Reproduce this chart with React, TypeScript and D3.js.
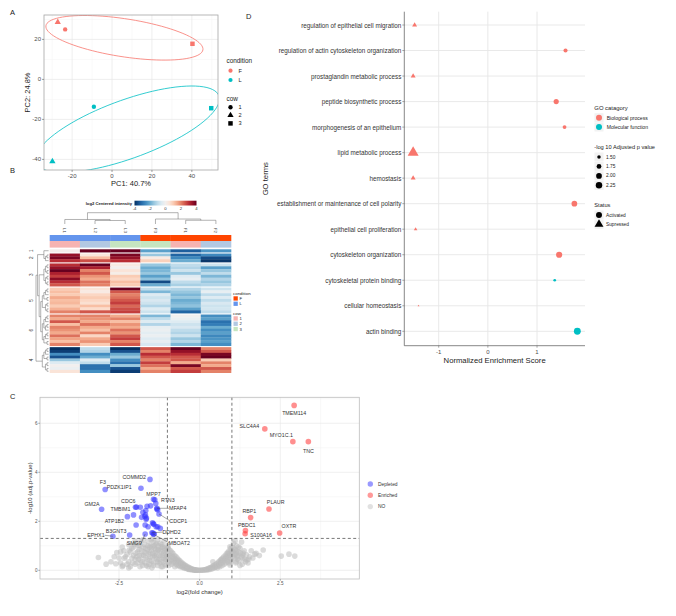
import React from 'react';
import * as d3 from 'd3';

const FONT = '"Liberation Sans", Arial, Helvetica, sans-serif';

// ---------------- Panel A : PCA ----------------
const pcaSamples = ['F1', 'F2', 'F3', 'L1', 'L2', 'L3'];
const pcaCondition = ['F', 'F', 'F', 'L', 'L', 'L'];
const pcaCow = ['1', '2', '3', '1', '2', '3'];
const pc1 = [-23.5, -27.2, 40.3, -9.1, -29.9, 49.7];
const pc2 = [25.0, 28.6, 17.8, -13.7, -41.0, -14.4];
const pcaXTicks = [-20, 0, 20, 40];
const pcaYTicks = [-40, -20, 0, 20];
const pcaXMinor = [-30, -10, 10, 30, 50];
const pcaYMinor = [-30, -10, 10, 30];
const ellipseCond = ['F', 'L'];
const ellipseCx = [6.2, 7.7];
const ellipseCy = [20.8, -24.9];
const ellipseA = [39.8, 48.8];
const ellipseB = [9.5, 14.6];
const ellipseAngle = [-8.7, 20];
const conditionLevels = ['F', 'L'];
const cowLevels = ['1', '2', '3'];

// ---------------- Panel B : heatmap ----------------
const hmColumns = ['L1', 'L2', 'L3', 'F3', 'F1', 'F2'];
const hmColCondition = ['L', 'L', 'L', 'F', 'F', 'F'];
const hmColCow = ['1', '2', '3', '3', '1', '2'];
const hmGroupNames = ['1', '2', '3', '5', '6', '4'];
const hmCluster1 = [[0.1, 4.0, 4.0, -2.2, -3.3, -2.4]];
const hmCluster2 = [
  [3.5, 0.4, 3.8, -1.5, -3.2, -2.6],
  [3.8, 1.2, 3.5, 0.3, -2.6, -3.6],
  [3.0, 2.6, 3.0, 0.9, -2.0, -3.9],
];
const hmCluster3 = [
  [3.0, 4.0, 0.3, -1.5, -1.0, -0.8],
  [3.5, 3.2, 0.0, -2.0, -1.2, -2.2],
  [4.0, 2.0, 0.5, -1.8, -0.8, -1.5],
  [3.2, 2.5, 0.2, -1.5, -1.5, -1.0],
  [2.8, 1.8, 1.0, -2.2, -0.5, -1.8],
  [3.6, 1.5, 0.8, -1.6, -0.3, -1.2],
  [3.0, 2.2, 1.2, -3.6, -1.0, -1.5],
  [2.5, 2.0, 1.0, -2.0, -1.3, -1.2],
];
const hmCluster5 = [
  [1.0, 0.5, 4.0, -1.0, -1.2, -0.8],
  [1.2, 0.3, 2.5, -1.8, -1.5, -0.3],
  [1.0, 0.8, 2.0, -0.5, -1.8, -1.0],
  [1.5, 1.0, 2.2, -0.8, -1.5, -0.5],
  [1.2, 0.8, 2.5, -0.6, -2.0, -1.0],
  [1.3, 0.6, 2.8, -0.8, -1.8, -0.6],
  [1.0, 1.2, 2.3, -1.2, -1.6, -0.8],
  [1.4, 0.7, 2.6, -0.5, -2.2, -0.7],
  [2.0, 2.5, 2.8, -0.8, -3.2, -1.0],
];
const hmCluster6 = [
  [2.0, 2.0, 1.5, -1.8, 0.0, -2.5],
  [1.5, 1.8, 2.0, -1.0, -0.2, -2.2],
  [2.5, 1.5, 1.2, -0.5, -0.5, -3.0],
  [1.2, 2.2, 1.8, -1.2, -0.8, -2.8],
  [2.0, 1.5, 1.5, -0.3, -0.6, -2.0],
  [1.8, 1.2, 2.2, -0.2, -1.0, -2.5],
  [1.5, 2.0, 1.8, -0.4, -1.2, -2.2],
  [2.2, 0.8, 2.5, -0.2, -0.8, -2.6],
  [1.6, 1.5, 2.8, -0.5, -1.5, -2.4],
  [1.2, 1.8, 2.0, -0.3, -1.2, -2.2],
  [2.0, 1.0, 2.5, -0.6, -1.8, -2.5],
];
const hmCluster4 = [
  [-4.0, -1.0, -4.0, 2.5, 4.0, 2.0],
  [-3.8, -1.2, -3.5, 2.0, 3.5, 2.5],
  [-2.5, -2.5, -2.0, 3.0, 3.0, 3.8],
  [-3.5, -2.0, -1.5, 2.5, 2.5, 4.0],
  [-1.5, -0.5, -2.5, 2.0, 2.5, 1.0],
  [-0.5, -1.0, -3.0, 2.8, 1.5, 2.0],
  [0.0, -3.0, -1.5, 2.2, 3.8, 1.5],
  [-0.2, -3.0, -3.5, 1.5, 2.5, 2.5],
  [0.5, -2.5, -3.8, 2.0, 2.8, 2.0],
];
const hmLegendTicks = [-4, -2, 0, 2, 4];

// ---------------- Panel C : volcano ----------------
const sigGenes = ['COMMD2', 'F3', 'PDZK1IP1', 'MPP7', 'RTN3', 'GM2A', 'CDC6', 'TMBIM1', 'MFAP4', 'ATP1B2', 'CDCP1', 'B3GNT3', 'EPHX1', 'DDHD2', 'SMG9', 'MBOAT2',
  'TMEM114', 'SLC4A4', 'MYO1C.1', 'TNC', 'PLAUR', 'RBP1', 'PBDC1', 'S100A16', 'OXTR'];
const sigLog2FC = [-1.54, -2.93, -1.82, -1.43, -1.36, -3.04, -1.84, -1.99, -1.32, -2.24, -1.26, -2.17, -2.69, -1.48, -1.69, -1.43,
  2.93, 2.02, 2.89, 3.37, 2.15, 1.58, 1.42, 1.41, 2.48];
const sigNegLogP = [3.71, 3.30, 3.35, 2.90, 2.73, 2.49, 2.57, 2.57, 2.53, 2.19, 2.30, 1.44, 1.39, 1.53, 1.48, 1.47,
  6.73, 5.77, 5.25, 5.25, 2.50, 2.15, 1.62, 1.49, 1.52];
const otherDepleted: [number, number][] = [
  [-1.63, 2.61], [-1.52, 2.63], [-1.33, 2.5], [-1.3, 2.47], [-2.05, 2.26], [-1.68, 2.26], [-1.65, 2.13], [-1.7, 2.2],
  [-1.66, 2.08], [-1.8, 2.16], [-1.97, 1.85], [-1.69, 1.85], [-1.46, 1.94], [-1.44, 1.9], [-1.42, 1.88], [-1.35, 1.78],
  [-1.3, 1.78], [-1.22, 1.71], [-1.6, 1.78], [-1.45, 1.52], [-1.41, 1.49], [-1.39, 2.88], [-1.76, 2.37], [-1.67, 2.44], [-1.96, 2.58],
];
const notSig: [number, number][] = [
  // left wing
  [-3.14, 0.52], [-2.9, 0.25], [-2.75, 0.35], [-2.65, 0.55], [-2.6, 0.27], [-2.57, 0.72], [-2.5, 0.5], [-2.45, 0.3], [-2.45, 0.75],
  [-2.4, 0.15], [-2.4, 0.95], [-2.38, 0.2], [-2.35, 0.8], [-2.34, 0.49], [-2.3, 0.55], [-2.25, 0.65], [-2.25, 0.25], [-2.2, 0.35],
  [-2.2, 0.1], [-2.2, 1.05], [-2.18, 0.83], [-2.15, 0.75], [-2.15, 0.15], [-2.1, 0.5], [-2.1, 0.9], [-2.08, 0.3], [-2.05, 0.95],
  [-2.05, 0.6], [-2.02, 1.05], [-2.0, 0.25], [-2.0, 0.45], [-2.0, 1.2], [-1.98, 0.7], [-1.95, 1.1], [-1.95, 0.55], [-1.93, 0.3],
  [-1.92, 0.75], [-1.9, 0.45], [-1.9, 1.0], [-1.88, 0.85], [-1.87, 0.6], [-1.85, 0.15], [-1.85, 1.0], [-1.83, 0.4], [-1.82, 1.2],
  [-1.8, 0.6], [-1.8, 0.8], [-1.78, 0.35], [-1.77, 0.2], [-1.75, 0.95], [-1.75, 1.25], [-1.74, 0.6], [-1.72, 0.75], [-1.7, 1.05],
  [-1.7, 0.3], [-1.68, 0.5], [-1.68, 0.9], [-1.66, 0.7], [-1.65, 0.2], [-1.63, 0.45], [-1.62, 0.85], [-1.6, 1.2], [-1.6, 0.15],
  [-1.6, 1.0], [-1.58, 0.65], [-1.57, 0.25], [-1.55, 0.4], [-1.55, 0.95], [-1.55, 0.75], [-1.53, 0.55], [-1.52, 1.0], [-1.5, 0.8],
  [-1.5, 1.24], [-1.5, 0.35], [-1.48, 0.1], [-1.48, 0.95], [-1.46, 0.55], [-1.45, 1.3], [-1.45, 0.7], [-1.44, 1.15], [-1.43, 0.2],
  [-1.42, 0.3], [-1.41, 1.0], [-1.4, 0.9], [-1.4, 0.6], [-1.38, 0.7], [-1.38, 0.5], [-1.36, 0.85], [-1.35, 1.05], [-1.35, 1.1],
  [-1.33, 0.45], [-1.33, 0.65], [-1.31, 0.35], [-1.3, 0.2], [-1.3, 1.25], [-1.29, 0.83], [-1.28, 1.0], [-1.28, 0.85], [-1.26, 0.45],
  [-1.25, 0.6], [-1.25, 0.3], [-1.23, 0.8], [-1.22, 1.1], [-1.21, 0.55], [-1.2, 0.35], [-1.2, 0.95], [-1.19, 0.15], [-1.18, 0.75],
  [-1.17, 1.05], [-1.15, 0.95], [-1.15, 0.15], [-1.15, 0.6], [-1.14, 0.96], [-1.13, 0.35], [-1.12, 0.5], [-1.11, 0.7], [-1.1, 1.2],
  [-1.1, 0.8], [-1.09, 0.9], [-1.08, 0.25], [-1.07, 0.45], [-1.05, 0.65], [-1.05, 0.45], [-1.05, 0.2], [-1.03, 0.85], [-1.03, 0.55],
  [-1.01, 0.75], [-1.0, 1.0], [-1.0, 0.6], [-0.99, 0.9],
  // inner band left
  [-0.98, 0.95], [-0.97, 0.5], [-0.96, 0.3], [-0.95, 0.85], [-0.95, 0.2], [-0.93, 0.6], [-0.92, 0.4], [-0.9, 0.8], [-0.9, 0.6],
  [-0.88, 0.4], [-0.87, 0.25], [-0.86, 0.72], [-0.85, 0.45], [-0.84, 0.55], [-0.83, 0.69], [-0.82, 0.35], [-0.8, 0.3], [-0.79, 0.5],
  [-0.78, 0.6], [-0.77, 0.15], [-0.76, 0.45], [-0.74, 0.56], [-0.74, 0.35], [-0.72, 0.25], [-0.71, 0.4], [-0.7, 0.5], [-0.69, 0.2],
  [-0.68, 0.38], [-0.66, 0.44], [-0.66, 0.3], [-0.64, 0.2], [-0.63, 0.32], [-0.62, 0.4], [-0.61, 0.15], [-0.6, 0.3], [-0.58, 0.34],
  [-0.57, 0.25], [-0.56, 0.15], [-0.54, 0.3], [-0.53, 0.12], [-0.52, 0.22], [-0.5, 0.26], [-0.5, 0.18], [-0.48, 0.12], [-0.47, 0.08],
  [-0.46, 0.21], [-0.44, 0.16], [-0.43, 0.1], [-0.42, 0.18], [-0.4, 0.09], [-0.39, 0.06], [-0.38, 0.14], [-0.36, 0.1], [-0.35, 0.05],
  [-0.34, 0.12], [-0.33, 0.03], [-0.32, 0.06], [-0.3, 0.09], [-0.28, 0.03], [-0.27, 0.07], [-0.25, 0.02], [-0.24, 0.05], [-0.21, 0.04],
  [-0.2, 0.01], [-0.18, 0.03], [-0.17, 0.01], [-0.15, 0.02], [-0.13, 0.0], [-0.12, 0.015], [-0.1, 0.0], [-0.09, 0.01], [-0.06, 0.005], [-0.03, 0.0],
  // inner band right
  [0.0, 0.0], [0.03, 0.0], [0.06, 0.005], [0.09, 0.01], [0.12, 0.015], [0.15, 0.02], [0.18, 0.03], [0.2, 0.01], [0.21, 0.04],
  [0.24, 0.05], [0.25, 0.02], [0.27, 0.07], [0.3, 0.09], [0.3, 0.03], [0.33, 0.1], [0.35, 0.05], [0.36, 0.12], [0.39, 0.14],
  [0.4, 0.07], [0.41, 0.35], [0.42, 0.17], [0.45, 0.2], [0.45, 0.1], [0.48, 0.12], [0.5, 0.24], [0.5, 0.14], [0.53, 0.27],
  [0.55, 0.18], [0.55, 0.1], [0.58, 0.32], [0.6, 0.36], [0.6, 0.2], [0.62, 0.25], [0.63, 0.15], [0.65, 0.42], [0.66, 0.3],
  [0.67, 0.42], [0.68, 0.46], [0.7, 0.3], [0.7, 0.2], [0.72, 0.5], [0.73, 0.38], [0.75, 0.55], [0.76, 0.25], [0.78, 0.4],
  [0.79, 0.48], [0.8, 0.62], [0.81, 0.3], [0.82, 0.5], [0.84, 0.58], [0.85, 0.7], [0.86, 0.4], [0.87, 0.69], [0.88, 0.35],
  [0.89, 0.55], [0.9, 0.78], [0.91, 0.3], [0.92, 0.6], [0.93, 0.7], [0.94, 0.96], [0.94, 0.49], [0.94, 0.22], [0.95, 0.88],
  [0.96, 0.62], [0.97, 0.45], [0.98, 0.35], [1.0, 0.95], [1.0, 0.8],
  // right wing
  [1.02, 0.7], [1.03, 0.55], [1.04, 0.76], [1.05, 1.1], [1.06, 0.9], [1.08, 0.5], [1.09, 0.65], [1.1, 0.85], [1.1, 1.2], [1.12, 0.3],
  [1.13, 0.8], [1.14, 0.69], [1.14, 0.35], [1.15, 1.0], [1.16, 0.56], [1.17, 0.45], [1.18, 0.6], [1.2, 0.75], [1.21, 0.95], [1.22, 0.4],
  [1.25, 0.9], [1.25, 0.2], [1.27, 0.7], [1.3, 0.55], [1.3, 1.15], [1.32, 0.25], [1.33, 0.5], [1.34, 0.62], [1.35, 0.7], [1.38, 0.8],
  [1.4, 0.45], [1.42, 0.35], [1.45, 0.63], [1.47, 0.42], [1.5, 0.3], [1.52, 0.45], [1.55, 0.55], [1.6, 0.8], [1.65, 0.5], [1.71, 0.66],
  [1.75, 0.69], [1.85, 0.6], [1.97, 0.83], [2.53, 0.58], [2.77, 0.66], [2.95, 0.58],
];
const volXTicks = [-2.5, 0, 2.5];
const volYTicks = [0, 2, 4, 6];
const volXMinor = [-3.75, -1.25, 1.25, 3.75];
const volYMinor = [1, 3, 5, 7];
const fcCut = 1;
const pCut = 1.301;
const volStatus = ['Depleted', 'Enriched', 'NO'];

// ---------------- Panel D : GO dot plot ----------------
const goTerms = [
  'regulation of epithelial cell migration',
  'regulation of actin cytoskeleton organization',
  'prostaglandin metabolic process',
  'peptide biosynthetic process',
  'morphogenesis of an epithelium',
  'lipid metabolic process',
  'hemostasis',
  'establishment or maintenance of cell polarity',
  'epithelial cell proliferation',
  'cytoskeleton organization',
  'cytoskeletal protein binding',
  'cellular homeostasis',
  'actin binding',
];
const goNES = [-1.49, 1.58, -1.52, 1.39, 1.56, -1.52, -1.52, 1.76, -1.47, 1.45, 1.36, -1.41, 1.82];
const goNegLogP = [1.45, 1.6, 1.45, 1.85, 1.55, 2.45, 1.45, 2.0, 1.36, 2.15, 1.4, 1.32, 2.4];
const goCategory = ['BP', 'BP', 'BP', 'BP', 'BP', 'BP', 'BP', 'BP', 'BP', 'BP', 'MF', 'BP', 'MF'];
const goStatus = ['Supressed', 'Activated', 'Supressed', 'Activated', 'Activated', 'Supressed', 'Supressed', 'Activated', 'Supressed', 'Activated', 'Activated', 'Supressed', 'Activated'];
const goXTicks = [-1, 0, 1];
const goCategoryLabels = ['Biological process', 'Molecular function'];
const goSizeBreaks = [1.5, 1.75, 2.0, 2.25];
const goStatusLevels = ['Activated', 'Supressed'];

const F_COL = '#F8766D';
const L_COL = '#00BFC4';

function sym(type: d3.SymbolType, area: number) {
  return d3.symbol().type(type).size(area)() as string;
}

// ---------------- Panel A ----------------
function PanelA() {
  const L = 44, R = 218, T = 15, B = 170;
  const x = d3.scaleLinear().domain([-34.1, 53.1]).range([L, R]);
  const y = d3.scaleLinear().domain([-45.3, 32.2]).range([B, T]);
  const col = d3.scaleOrdinal<string, string>().domain(conditionLevels).range([F_COL, L_COL]);
  const shp = d3.scaleOrdinal<string, d3.SymbolType>().domain(cowLevels).range([d3.symbolCircle, d3.symbolTriangle, d3.symbolSquare]);
  const shpArea = d3.scaleOrdinal<string, number>().domain(cowLevels).range([15, 17, 20]);
  const line = d3.line<[number, number]>().x(d => x(d[0])).y(d => y(d[1]));
  const ellipsePaths = ellipseCond.map((c, i) => {
    const th = (ellipseAngle[i] * Math.PI) / 180;
    const pts: [number, number][] = d3.range(0, 361, 4).map(deg => {
      const t = (deg * Math.PI) / 180;
      const ex = ellipseA[i] * Math.cos(t), ey = ellipseB[i] * Math.sin(t);
      return [ellipseCx[i] + ex * Math.cos(th) - ey * Math.sin(th), ellipseCy[i] + ex * Math.sin(th) + ey * Math.cos(th)];
    });
    return { c, d: line(pts) as string };
  });
  return (
    <g>
      <defs>
        <clipPath id="pcaClip"><rect x={L} y={T} width={R - L} height={B - T} /></clipPath>
      </defs>
      <text x={10} y={15} fontSize={7.5} fill="#222">A</text>
      <rect x={L} y={T} width={R - L} height={B - T} fill="#fff" />
      {pcaXMinor.map(v => <line key={'xm' + v} x1={x(v)} x2={x(v)} y1={T} y2={B} stroke="#f2f2f2" strokeWidth={0.5} />)}
      {pcaYMinor.map(v => <line key={'ym' + v} x1={L} x2={R} y1={y(v)} y2={y(v)} stroke="#f2f2f2" strokeWidth={0.5} />)}
      {pcaXTicks.map(v => <line key={'x' + v} x1={x(v)} x2={x(v)} y1={T} y2={B} stroke="#e6e6e6" strokeWidth={0.7} />)}
      {pcaYTicks.map(v => <line key={'y' + v} x1={L} x2={R} y1={y(v)} y2={y(v)} stroke="#e6e6e6" strokeWidth={0.7} />)}
      <g clipPath="url(#pcaClip)">
        {ellipsePaths.map(e => <path key={e.c} d={e.d} fill="none" stroke={col(e.c)} strokeWidth={0.8} />)}
      </g>
      {pcaSamples.map((s, i) => (
        <path key={s} d={sym(shp(pcaCow[i]), shpArea(pcaCow[i]))} transform={`translate(${x(pc1[i])},${y(pc2[i])})`} fill={col(pcaCondition[i])} />
      ))}
      <rect x={L} y={T} width={R - L} height={B - T} fill="none" stroke="#a6a6a6" strokeWidth={0.8} />
      {pcaXTicks.map(v => (
        <g key={'xt' + v}>
          <line x1={x(v)} x2={x(v)} y1={B} y2={B + 2} stroke="#444" strokeWidth={0.5} />
          <text x={x(v)} y={B + 7.5} fontSize={6} fill="#4d4d4d" textAnchor="middle">{v}</text>
        </g>
      ))}
      {pcaYTicks.map(v => (
        <g key={'yt' + v}>
          <line x1={L - 2} x2={L} y1={y(v)} y2={y(v)} stroke="#444" strokeWidth={0.5} />
          <text x={L - 3} y={y(v)} fontSize={6} fill="#4d4d4d" textAnchor="end" dominantBaseline="central">{v}</text>
        </g>
      ))}
      <text x={(L + R) / 2} y={B + 16} fontSize={7.5} fill="#222" textAnchor="middle">PC1: 40.7%</text>
      <text transform={`translate(${L - 14},${(T + B) / 2}) rotate(-90)`} fontSize={7.5} fill="#222" textAnchor="middle">PC2: 24.8%</text>
      {/* legends */}
      <text x={226.5} y={63} fontSize={6.4} fill="#222">condition</text>
      {conditionLevels.map((c, i) => (
        <g key={'cl' + c}>
          <circle cx={230.5} cy={70.7 + i * 9.3} r={2.1} fill={col(c)} />
          <text x={238.5} y={70.7 + i * 9.3} fontSize={5.6} fill="#222" dominantBaseline="central">{c}</text>
        </g>
      ))}
      <text x={226.5} y={100.5} fontSize={6.4} fill="#222">cow</text>
      {cowLevels.map((c, i) => (
        <g key={'cw' + c}>
          <path d={sym(shp(c), shpArea(c))} transform={`translate(${230.5},${107.2 + i * 8.1})`} fill="#000" />
          <text x={238.5} y={107.2 + i * 8.1} fontSize={5.6} fill="#222" dominantBaseline="central">{c}</text>
        </g>
      ))}
    </g>
  );
}

// ---------------- Panel B ----------------
function binaryTree(ids: number[]): any {
  if (ids.length === 1) return { id: ids[0] };
  const mid = Math.ceil(ids.length / 2);
  return { children: [binaryTree(ids.slice(0, mid)), binaryTree(ids.slice(mid))] };
}

function PanelB() {
  const clusters = [hmCluster1, hmCluster2, hmCluster3, hmCluster5, hmCluster6, hmCluster4];
  const hmL = 49.7, hmR = 231, hmT = 249.3, hmB = 372.7, gap = 1.4;
  const nRows = d3.sum(clusters, c => c.length);
  const rowH = (hmB - hmT - gap * (clusters.length - 1)) / nRows;
  const xb = d3.scaleBand().domain(hmColumns).range([hmL, hmR]);
  const color = (v: number) => d3.interpolateRdBu((4 - Math.max(-4, Math.min(4, v))) / 8);
  const condCol = d3.scaleOrdinal<string, string>().domain(['F', 'L']).range(['#FF4500', '#6495ED']);
  const cowCol = d3.scaleOrdinal<string, string>().domain(cowLevels).range(['#F6B3B1', '#B2C8E2', '#C5E5C0']);

  const rows: { y: number; vals: number[]; g: number; idx: number }[] = [];
  const groupSpan: { y0: number; y1: number; name: string }[] = [];
  let yc = hmT;
  let idx = 0;
  clusters.forEach((cl, gi) => {
    const y0 = yc;
    cl.forEach(v => { rows.push({ y: yc, vals: v, g: gi, idx: idx++ }); yc += rowH; });
    groupSpan.push({ y0, y1: yc, name: hmGroupNames[gi] });
    yc += gap;
  });

  let start = 0;
  const groupTrees = clusters.map(cl => { const ids = d3.range(start, start + cl.length); start += cl.length; return binaryTree(ids); });
  const [t1, t2, t3, t5, t6, t4] = groupTrees;
  const rootData = { children: [{ children: [{ children: [t1, t2] }, { children: [t3, { children: [t5, t6] }] }] }, t4] };
  const root = d3.hierarchy<any>(rootData);
  const xLeaf = 48.6, xRoot = 36;
  const step = (xLeaf - xRoot) / root.height;
  const rowDendro: string[] = [];
  const pos = (n: d3.HierarchyNode<any>): { x: number; y: number } => {
    if (!n.children) return { x: xLeaf, y: rows[n.data.id].y + rowH / 2 };
    const cs = n.children.map(pos);
    const nx = xLeaf - n.height * step;
    const ys = cs.map(c => c.y);
    rowDendro.push(`M${nx},${d3.min(ys)}V${d3.max(ys)}`);
    cs.forEach(c => rowDendro.push(`M${nx},${c.y}H${c.x}`));
    return { x: nx, y: (ys[0] + ys[ys.length - 1]) / 2 };
  };
  pos(root);

  const colTree = {
    h: 10, children: [
      { h: 4.0, children: [{ leaf: 'L1' }, { h: 3.1, children: [{ leaf: 'L2' }, { leaf: 'L3' }] }] },
      { h: 4.4, children: [{ leaf: 'F3' }, { h: 3.3, children: [{ leaf: 'F1' }, { leaf: 'F2' }] }] },
    ],
  };
  const hY = d3.scaleLinear().domain([0, 10]).range([224, 212.7]);
  const colDendro: string[] = [];
  const cpos = (n: any): { x: number; y: number } => {
    if (n.leaf) return { x: (xb(n.leaf) as number) + xb.bandwidth() / 2, y: hY(0) };
    const cs = n.children.map(cpos);
    const ny = hY(n.h);
    colDendro.push(`M${cs[0].x},${ny}H${cs[cs.length - 1].x}`);
    cs.forEach((c: any) => colDendro.push(`M${c.x},${ny}V${c.y}`));
    return { x: (cs[0].x + cs[cs.length - 1].x) / 2, y: ny };
  };
  cpos(colTree);

  const lgX = d3.scaleLinear().domain([-4, 4]).range([134.5, 196.5]);
  const gradStops = d3.range(-4, 4.01, 0.5);

  return (
    <g>
      <defs>
        <linearGradient id="hmGrad" x1="0" x2="1" y1="0" y2="0">
          {gradStops.map(v => <stop key={v} offset={(v + 4) / 8} stopColor={color(v)} />)}
        </linearGradient>
      </defs>
      <text x={10} y={173} fontSize={7.5} fill="#222">B</text>
      <text x={132} y={204.6} fontSize={4.2} fontWeight="bold" fill="#222" textAnchor="end">log2 Centered intensity</text>
      <rect x={lgX(-4)} y={200.7} width={lgX(4) - lgX(-4)} height={4.8} fill="url(#hmGrad)" />
      {hmLegendTicks.map(v => (
        <text key={v} x={lgX(v)} y={210.3} fontSize={4.2} fill="#333" textAnchor="middle">{v}</text>
      ))}
      <path d={colDendro.join('')} stroke="#666" strokeWidth={0.5} fill="none" />
      <path d={rowDendro.join('')} stroke="#666" strokeWidth={0.5} fill="none" />
      {hmColumns.map(c => (
        <text key={c} transform={`translate(${(xb(c) as number) + xb.bandwidth() / 2},${230.5}) rotate(90)`} fontSize={4.4} fill="#444" textAnchor="middle" dominantBaseline="central">{c}</text>
      ))}
      {hmColumns.map((c, i) => (
        <g key={'an' + c}>
          <rect x={xb(c)} y={235} width={xb.bandwidth() + 0.3} height={6} fill={condCol(hmColCondition[i])} />
          <rect x={xb(c)} y={241} width={xb.bandwidth() + 0.3} height={6.6} fill={cowCol(hmColCow[i])} />
        </g>
      ))}
      {rows.map(r => hmColumns.map((c, j) => (
        <rect key={r.idx + '-' + c} x={xb(c)} y={r.y} width={xb.bandwidth() + 0.3} height={rowH + 0.3} fill={color(r.vals[j])} />
      )))}
      {groupSpan.map(g => (
        <text key={'gl' + g.name} transform={`translate(${31},${(g.y0 + g.y1) / 2}) rotate(-90)`} fontSize={4.6} fill="#333" textAnchor="middle" dominantBaseline="central">{g.name}</text>
      ))}
      <text x={233} y={294.8} fontSize={4.4} fill="#222">condition</text>
      {['F', 'L'].map((c, i) => (
        <g key={'hc' + c}>
          <rect x={233.5} y={296.3 + i * 5.3} width={4.3} height={4.3} fill={condCol(c)} />
          <text x={239.5} y={298.5 + i * 5.3} fontSize={4.2} fill="#222" dominantBaseline="central">{c}</text>
        </g>
      ))}
      <text x={233} y={314.6} fontSize={4.4} fill="#222">cow</text>
      {cowLevels.map((c, i) => (
        <g key={'hw' + c}>
          <rect x={233.5} y={316.3 + i * 5.3} width={4.3} height={4.3} fill={cowCol(c)} />
          <text x={239.5} y={318.5 + i * 5.3} fontSize={4.2} fill="#222" dominantBaseline="central">{c}</text>
        </g>
      ))}
    </g>
  );
}

// ---------------- Panel C ----------------
const labelOffsets: Record<string, [number, number, boolean]> = {
  TMEM114: [0, 8, false], SLC4A4: [-15.5, -3.3, false], 'MYO1C.1': [-11.6, -6.7, false], TNC: [0, 9.3, false],
  PLAUR: [6.7, -7, false], RBP1: [-1.3, -6.7, false], PBDC1: [1.3, -5.4, false], S100A16: [16, 1.6, false], OXTR: [9.3, -6.7, false],
  COMMD2: [-15.7, -2.3, false], F3: [-2.4, -7.6, false], PDZK1IP1: [-21.7, -1.6, false], MPP7: [0, -5.6, false], RTN3: [12, -3, false],
  GM2A: [-9.6, -5.6, false], CDC6: [-12, -6.8, false], TMBIM1: [-15, 1.8, false], MFAP4: [20.6, 0, true], ATP1B2: [-13, 4.7, false],
  CDCP1: [19.3, 6.7, true], B3GNT3: [-13.6, -3.7, false], EPHX1: [-17, -1, true], DDHD2: [19.6, -0.7, true], SMG9: [-11, 9, true],
  MBOAT2: [25.7, 8.4, true],
};

function PanelC() {
  const L = 40, R = 359.3, T = 397.3, B = 579;
  const x = d3.scaleLinear().domain([-4.95, 4.95]).range([L, R]);
  const y = d3.scaleLinear().domain([-0.355, 7.06]).range([B, T]);
  const statusCol = d3.scaleOrdinal<string, string>().domain(volStatus).range(['#3333ff', '#ff3333', '#bdbdbd']);
  const statusOp = d3.scaleOrdinal<string, number>().domain(volStatus).range([0.55, 0.55, 0.55]);
  const r = 2.8;
  const fs = 5.3;
  const sig = sigGenes.map((g, i) => ({ g, fc: sigLog2FC[i], p: sigNegLogP[i], s: sigLog2FC[i] < 0 ? 'Depleted' : 'Enriched' }));
  return (
    <g>
      <text x={10} y={399} fontSize={7.5} fill="#222">C</text>
      {volXMinor.map(v => <line key={'xm' + v} x1={x(v)} x2={x(v)} y1={T} y2={B} stroke="#f3f3f3" strokeWidth={0.5} />)}
      {volYMinor.map(v => <line key={'ym' + v} x1={L} x2={R} y1={y(v)} y2={y(v)} stroke="#f3f3f3" strokeWidth={0.5} />)}
      {volXTicks.map(v => <line key={'x' + v} x1={x(v)} x2={x(v)} y1={T} y2={B} stroke="#e8e8e8" strokeWidth={0.7} />)}
      {volYTicks.map(v => <line key={'y' + v} x1={L} x2={R} y1={y(v)} y2={y(v)} stroke="#e8e8e8" strokeWidth={0.7} />)}
      {notSig.map((d, i) => (
        <circle key={'n' + i} cx={x(d[0])} cy={y(d[1])} r={r} fill={statusCol('NO')} fillOpacity={statusOp('NO')} />
      ))}
      {otherDepleted.map((d, i) => (
        <circle key={'d' + i} cx={x(d[0])} cy={y(d[1])} r={r} fill={statusCol('Depleted')} fillOpacity={statusOp('Depleted')} />
      ))}
      {sig.map(d => (
        <circle key={'s' + d.g} cx={x(d.fc)} cy={y(d.p)} r={r} fill={statusCol(d.s)} fillOpacity={statusOp(d.s)} />
      ))}
      <line x1={x(-fcCut)} x2={x(-fcCut)} y1={T} y2={B} stroke="#555" strokeWidth={0.8} strokeDasharray="3,2.4" />
      <line x1={x(fcCut)} x2={x(fcCut)} y1={T} y2={B} stroke="#555" strokeWidth={0.8} strokeDasharray="3,2.4" />
      <line x1={L} x2={R} y1={y(pCut)} y2={y(pCut)} stroke="#555" strokeWidth={0.8} strokeDasharray="3,2.4" />
      {sig.map(d => {
        const [dx, dy, seg] = labelOffsets[d.g];
        const px = x(d.fc), py = y(d.p);
        const lx = px + dx, ly = py + dy;
        const hw = (d.g.length * fs * 0.62) / 2;
        let sx = lx;
        if (Math.abs(dx) > hw) sx = lx - Math.sign(dx) * (hw + 0.5);
        return (
          <g key={'l' + d.g}>
            {seg && <line x1={px} y1={py} x2={sx} y2={ly} stroke="#444" strokeWidth={0.45} />}
            <text x={lx} y={ly} fontSize={fs} fill="#333" textAnchor="middle" dominantBaseline="central">{d.g}</text>
          </g>
        );
      })}
      <rect x={L} y={T} width={R - L} height={B - T} fill="none" stroke="#bdbdbd" strokeWidth={0.8} />
      {volXTicks.map(v => (
        <g key={'xt' + v}>
          <line x1={x(v)} x2={x(v)} y1={B} y2={B + 1.8} stroke="#666" strokeWidth={0.5} />
          <text x={x(v)} y={B + 6.3} fontSize={4.6} fill="#555" textAnchor="middle">{d3.format('.1f')(v).replace('−', '-')}</text>
        </g>
      ))}
      {volYTicks.map(v => (
        <g key={'yt' + v}>
          <line x1={L - 1.8} x2={L} y1={y(v)} y2={y(v)} stroke="#666" strokeWidth={0.5} />
          <text x={L - 2.5} y={y(v)} fontSize={4.6} fill="#555" textAnchor="end" dominantBaseline="central">{v}</text>
        </g>
      ))}
      <text x={(L + R) / 2} y={594} fontSize={6} fill="#333" textAnchor="middle">log2(fold change)</text>
      <text transform={`translate(${31.5},${(T + B) / 2}) rotate(-90)`} fontSize={6} fill="#333" textAnchor="middle">-log10 (adj.p-value)</text>
      {volStatus.map((s, i) => (
        <g key={'vl' + s}>
          <circle cx={370.3} cy={484 + i * 11.3} r={2.7} fill={statusCol(s)} fillOpacity={s === 'NO' ? 0.45 : 0.5} />
          <text x={378} y={484 + i * 11.3} fontSize={4.9} fill="#333" dominantBaseline="central">{s}</text>
        </g>
      ))}
    </g>
  );
}

// ---------------- Panel D ----------------
function PanelD() {
  const L = 404.3, R = 585, T = 11.7, B = 345.7;
  const x = d3.scaleLinear().domain([-1.7, 1.976]).range([L, R]);
  const y = d3.scalePoint<string>().domain(goTerms).range([25, 331.3]);
  const catCol = d3.scaleOrdinal<string, string>().domain(['BP', 'MF']).range([F_COL, L_COL]);
  const [pMin, pMax] = [1.32, 2.45];
  const norm = d3.scaleLinear().domain([pMin, pMax]).range([0, 1]).clamp(true);
  const rad = (v: number) => 0.6 + 2.9 * Math.sqrt(norm(v));
  const shp = d3.scaleOrdinal<string, d3.SymbolType>().domain(goStatusLevels).range([d3.symbolCircle, d3.symbolTriangle]);
  const area = (v: number, s: string) => Math.PI * rad(v) * rad(v) * (s === 'Supressed' ? 1.35 : 1);
  const lgx = 599;
  const keyBg = (cy: number, k: string) => <rect key={k} x={lgx - 4.5} y={cy - 4.5} width={9} height={9} fill="#f2f2f2" />;
  return (
    <g>
      <text x={246} y={19} fontSize={7.5} fill="#222">D</text>
      {goXTicks.map(v => <line key={'gx' + v} x1={x(v)} x2={x(v)} y1={T} y2={B} stroke="#dedede" strokeWidth={0.7} />)}
      {goTerms.map(t => <line key={'gy' + t} x1={L} x2={R} y1={y(t)} y2={y(t)} stroke="#e6e6e6" strokeWidth={0.9} />)}
      {goTerms.map((t, i) => (
        <path key={'pt' + t} d={sym(shp(goStatus[i]), area(goNegLogP[i], goStatus[i]))}
          transform={`translate(${x(goNES[i])},${y(t)})`} fill={catCol(goCategory[i])} />
      ))}
      <line x1={L} x2={L} y1={T} y2={B} stroke="#555" strokeWidth={0.7} />
      <line x1={L} x2={R} y1={B} y2={B} stroke="#555" strokeWidth={0.7} />
      {goTerms.map(t => (
        <g key={'yl' + t}>
          <line x1={L - 2} x2={L} y1={y(t)} y2={y(t)} stroke="#555" strokeWidth={0.5} />
          <text x={L - 3} y={y(t)} fontSize={6.3} fill="#333" textAnchor="end" dominantBaseline="central">{t}</text>
        </g>
      ))}
      {goXTicks.map(v => (
        <g key={'xl' + v}>
          <line x1={x(v)} x2={x(v)} y1={B} y2={B + 2} stroke="#555" strokeWidth={0.5} />
          <text x={x(v)} y={B + 8.3} fontSize={6} fill="#4d4d4d" textAnchor="middle">{v}</text>
        </g>
      ))}
      <text x={(L + R) / 2} y={363} fontSize={7.7} fill="#222" textAnchor="middle">Normalized Enrichment Score</text>
      <text transform={`translate(${268},${(T + B) / 2}) rotate(-90)`} fontSize={7.7} fill="#222" textAnchor="middle">GO terms</text>
      <text x={594.3} y={109.6} fontSize={5.9} fill="#222">GO catagory</text>
      {['BP', 'MF'].map((c, i) => (
        <g key={'gc' + c}>
          {keyBg(117.7 + i * 9.3, 'bg' + c)}
          <circle cx={lgx} cy={117.7 + i * 9.3} r={3} fill={catCol(c)} />
          <text x={606.7} y={117.7 + i * 9.3} fontSize={5.1} fill="#222" dominantBaseline="central">{goCategoryLabels[i]}</text>
        </g>
      ))}
      <text x={594.3} y={148.7} fontSize={5.7} fill="#222">-log 10 Adjusted p value</text>
      {goSizeBreaks.map((v, i) => (
        <g key={'gs' + v}>
          {keyBg(157 + i * 9.45, 'bgs' + v)}
          <circle cx={lgx} cy={157 + i * 9.45} r={rad(v)} fill="#000" />
          <text x={606} y={157 + i * 9.45} fontSize={4.8} fill="#222" dominantBaseline="central">{d3.format('.2f')(v)}</text>
        </g>
      ))}
      <text x={594.3} y={207} fontSize={5.7} fill="#222">Status</text>
      {goStatusLevels.map((s, i) => (
        <g key={'st' + s}>
          {keyBg(215 + i * 9.3, 'bgt' + s)}
          <path d={sym(shp(s), s === 'Supressed' ? 34 : 28)} transform={`translate(${lgx},${215 + i * 9.3})`} fill="#000" />
          <text x={606} y={215 + i * 9.3} fontSize={4.8} fill="#222" dominantBaseline="central">{s}</text>
        </g>
      ))}
    </g>
  );
}

export default function App() {
  return (
    <svg width={676} height={616} viewBox="0 0 676 616" style={{ position: 'absolute', left: 0, top: 0, background: '#fff', display: 'block' }} fontFamily={FONT}>
      <rect x={0} y={0} width={676} height={616} fill="#fff" />
      <PanelA />
      <PanelB />
      <PanelC />
      <PanelD />
    </svg>
  );
}
